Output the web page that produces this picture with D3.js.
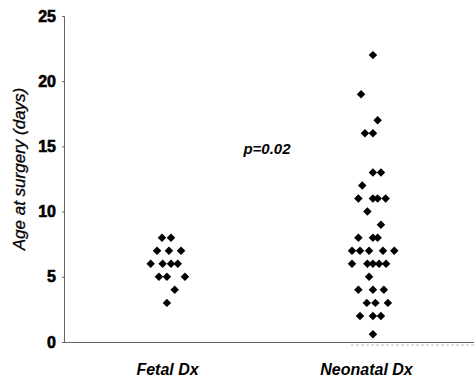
<!DOCTYPE html>
<html>
<head>
<meta charset="utf-8">
<script src="https://cdn.jsdelivr.net/npm/d3@7"></script>
<style>
  body { margin: 0; background: #fff; }
  svg { display: block; font-family: "Liberation Sans", Arial, sans-serif; }
</style>
</head>
<body>
<div id="graph"></div>
<script>
// groups sit at 0.5 and 1.5 on the x domain; offsets are the horizontal jitter
const GROUPS = ['Fetal Dx', 'Neonatal Dx'];

const FETAL_AGE = [8, 8, 7, 7, 7, 6, 6, 6, 6, 5, 5, 5, 4, 3];
const FETAL_OFFSET = [-0.022, 0.022, -0.046, 0.012, 0.071, -0.077, -0.019, 0.022, 0.055,
                      -0.037, 0.002, 0.09, 0.04, 0.002];

const NEONATAL_AGE = [22, 19, 17, 16, 16, 13, 13, 12, 11, 11, 11, 11, 10, 9, 8, 8, 8,
                      7, 7, 7, 7, 7, 6, 6, 6, 6, 6, 5, 4, 4, 4, 3, 3, 3, 2, 2, 2, 0.6];
const NEONATAL_OFFSET = [0.007, -0.051, 0.03, -0.032, 0.007, 0.007, 0.046, -0.045,
                         -0.064, 0.007, 0.03, 0.069, -0.02, 0.046, -0.064, 0.007, 0.03,
                         -0.095, -0.056, -0.012, 0.056, 0.111, -0.095, -0.02, 0.007, 0.037, 0.071,
                         -0.012, -0.064, 0.007, 0.06, -0.023, 0.019, 0.08, -0.056, 0.007, 0.046, 0.007];

const Y_TICKS = [0, 5, 10, 15, 20, 25];
const Y_LABEL = 'Age at surgery (days)';
const P_TEXT = 'p=0.02';

const WIDTH = 474;
const HEIGHT = 377;
const FONT = '"Liberation Sans", Arial, sans-serif';

const svg = d3.select('#graph')
  .append('svg')
    .attr('width', WIDTH)
    .attr('height', HEIGHT);

const x = d3.scaleLinear().domain([0, 2]).range([64, 474]);
const y = d3.scaleLinear().domain([0, 25]).range([342, 16]);

const points = [
  ...FETAL_AGE.map((v, i) => ({g: 0, age: v, off: FETAL_OFFSET[i]})),
  ...NEONATAL_AGE.map((v, i) => ({g: 1, age: v, off: NEONATAL_OFFSET[i]})),
];

// y axis
const yAxis = svg.append('g')
  .attr('transform', `translate(${x(0)},0)`)
  .call(d3.axisLeft(y).tickValues(Y_TICKS).tickSize(2).tickPadding(6))
  .attr('font-size', 16)
  .attr('font-family', FONT)
  .attr('font-weight', 'bold');
yAxis.select('.domain').attr('stroke', '#666');
yAxis.selectAll('.tick line').attr('stroke', '#666');
// scanned digits are heavier than the plain bold face
yAxis.selectAll('.tick text')
  .attr('fill', '#000')
  .attr('stroke', '#000')
  .attr('stroke-width', 0.6);

// x axis: plain line, category labels below
svg.append('line')
  .attr('x1', x(0)).attr('x2', x(2))
  .attr('y1', y(0) + 0.5).attr('y2', y(0) + 0.5)
  .attr('stroke', '#666');

// faint scan specks under the axis near the second group
svg.append('line')
  .attr('x1', x(1.4)).attr('x2', x(2))
  .attr('y1', y(0) + 3).attr('y2', y(0) + 3)
  .attr('stroke', '#bbb')
  .attr('stroke-dasharray', '3,2');

svg.append('g')
  .selectAll('text')
  .data(GROUPS)
  .join('text')
  .attr('x', (d, i) => x(i + 0.5) + (i === 0 ? 1 : -5))
  .attr('y', 375)
  .attr('text-anchor', 'middle')
  .attr('font-size', 16)
  .attr('font-weight', 'bold')
  .attr('font-style', 'italic')
  .text(d => d);

svg.append('text')
  .attr('transform', 'translate(25,169) rotate(-90)')
  .attr('text-anchor', 'middle')
  .attr('font-size', 17)
  .attr('font-style', 'italic')
  .attr('fill', '#000')
  .attr('stroke', '#000')
  .attr('stroke-width', 0.3)
  .text(Y_LABEL);

svg.append('text')
  .attr('x', 267)
  .attr('y', 154)
  .attr('text-anchor', 'middle')
  .attr('font-size', 15)
  .attr('font-weight', 'bold')
  .attr('font-style', 'italic')
  .text(P_TEXT);

const diamond = d3.symbol().type(d3.symbolSquare).size(36);

svg.append('g')
  .selectAll('path')
  .data(points)
  .join('path')
  .attr('d', diamond)
  .attr('transform', d => `translate(${x(d.g + 0.5 + d.off)},${y(d.age)}) rotate(45)`)
  .attr('fill', '#000');
</script>
</body>
</html>
